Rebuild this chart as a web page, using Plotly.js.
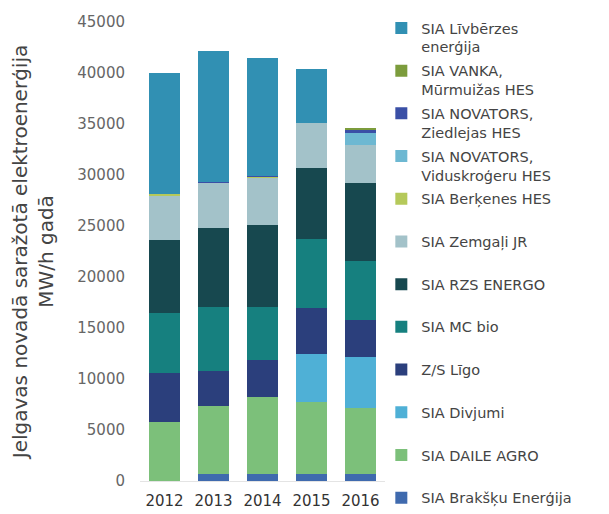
<!DOCTYPE html>
<html>
<head>
<meta charset="utf-8">
<script src="https://cdn.plot.ly/plotly-3.0.1.min.js"></script>
<style>html,body{margin:0;padding:0;background:#fff;}#chart{width:609px;height:514px;}</style>
</head>
<body>
<div id="chart"></div>
<script>
var years = ["2012", "2013", "2014", "2015", "2016"];

// Series listed bottom-to-top of the stack
var names = [
  "SIA Brakšķu Enerģija",
  "SIA DAILE AGRO",
  "SIA Divjumi",
  "Z/S Līgo",
  "SIA MC bio",
  "SIA RZS ENERGO",
  "SIA Zemgaļi JR",
  "SIA Berķenes HES",
  "SIA NOVATORS,<br>Viduskroģeru HES",
  "SIA NOVATORS,<br>Ziedlejas HES",
  "SIA VANKA,<br>Mūrmuižas HES",
  "SIA Līvbērzes<br>enerģija"
];

var brakskuEnergija   = [0, 700, 700, 700, 700];
var daileAgro         = [5800, 6700, 7500, 7000, 6500];
var divjumi           = [0, 0, 0, 4800, 5000];
var ligo              = [4800, 3400, 3700, 4500, 3600];
var mcBio             = [5900, 6300, 5200, 6700, 5800];
var rzsEnergo         = [7100, 7700, 8000, 7000, 7600];
var zemgaliJR         = [4300, 4400, 4600, 4400, 3700];
var berkenesHES       = [200, 0, 150, 0, 0];
var viduskrogeruHES   = [0, 0, 0, 0, 1200];
var ziedlejasHES      = [0, 100, 100, 0, 300];
var vankaMurmuizasHES = [0, 0, 0, 0, 200];
var livberzesEnergija = [11900, 12900, 11550, 5300, 0];

var seriesValues = [brakskuEnergija, daileAgro, divjumi, ligo, mcBio, rzsEnergo,
  zemgaliJR, berkenesHES, viduskrogeruHES, ziedlejasHES, vankaMurmuizasHES, livberzesEnergija];

var colors = ["#3f6aae", "#7cc07a", "#4fb0d6", "#2b3f7c", "#16807f", "#17484f",
  "#a3c2c9", "#b5c95a", "#6db8d2", "#3a4fa6", "#7c9c3c", "#3190b3"];

var yTicks = [0, 5000, 10000, 15000, 20000, 25000, 30000, 35000, 40000, 45000];

var traces = names.map(function (n, i) {
  var label = (n.indexOf("<br>") >= 0 || i === 0) ? n : n + "<br> ";
  return {
    type: "bar",
    name: label,
    legendgroup: "g" + i,
    legendrank: names.length - i,
    x: years,
    y: seriesValues[i],
    marker: {color: colors[i], line: {width: 0}},
    hoverinfo: "x+y+name"
  };
});

var layout = {
  width: 609,
  height: 514,
  barmode: "stack",
  bargap: 0.36,
  paper_bgcolor: "#ffffff",
  plot_bgcolor: "#ffffff",
  margin: {l: 140, r: 224, t: 22, b: 33},
  font: {family: "DejaVu Sans, sans-serif", color: "#444"},
  showlegend: true,
  legend: {
    x: 0.985, xanchor: "left", y: 1.02, yanchor: "top",
    traceorder: "grouped",
    tracegroupgap: 2,
    valign: "top",
    maxheight: 700,
    font: {size: 14.5, color: "#444"},
    itemwidth: 30,
    bgcolor: "rgba(0,0,0,0)"
  },
  xaxis: {
    type: "category",
    tickfont: {size: 15, color: "#333"},
    showline: true, linecolor: "#e4e4e4", linewidth: 1,
    ticks: "", showgrid: false, ticklabelstandoff: 6
  },
  yaxis: {
    range: [0, 45000],
    tickvals: yTicks,
    ticktext: yTicks.map(String),
    tickfont: {size: 15, color: "#666"},
    showgrid: false, zeroline: false, showline: false,
    ticks: "", ticklabelstandoff: 14,
    title: {
      text: "Jelgavas novadā saražotā elektroenerģija<br>MW/h gadā",
      font: {size: 20, color: "#444"},
      standoff: 18
    }
  }
};

Plotly.newPlot("chart", traces, layout, {displayModeBar: false, staticPlot: true});
</script>
</body>
</html>
